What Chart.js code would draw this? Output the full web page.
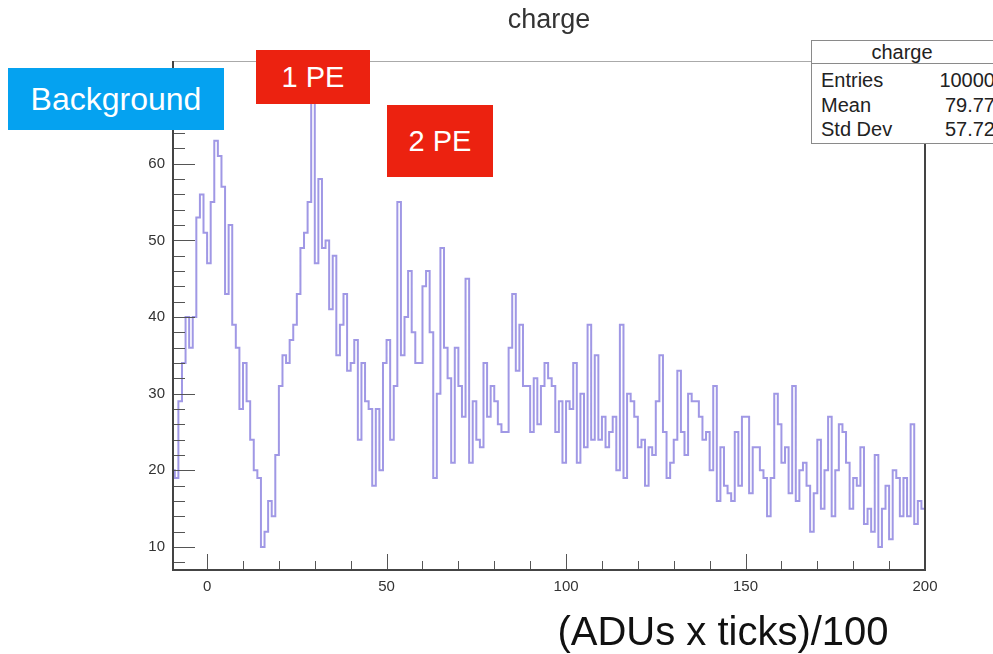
<!DOCTYPE html>
<html>
<head>
<meta charset="utf-8">
<script src="https://cdn.jsdelivr.net/npm/chart.js@4.4.1/dist/chart.umd.min.js"></script>
<style>
  body { margin: 0; background: #fff; overflow: hidden; }
  #wrap { position: relative; width: 993px; height: 654px; font-family: "Liberation Sans", Arial, sans-serif; }
  .tag { position: absolute; color: #fff; display: flex; align-items: center; justify-content: center; }
  #stats { position: absolute; left: 811px; top: 40px; width: 186px; height: 102px; border: 1px solid #8a8a8a; background: #fff; color: #222; font-size: 20px; }
  #stats .head { height: 22px; border-bottom: 1px solid #8a8a8a; text-align: center; line-height: 22px; padding-right: 6px; }
  #stats .rows { padding-top: 4px; }
  #stats .row { display: flex; justify-content: space-between; height: 24.5px; line-height: 24.5px; padding: 0 3px 0 9px; }
  #xlabel { position: absolute; left: 520px; top: 609px; width: 406px; text-align: center; font-size: 40px; color: #111; }
</style>
</head>
<body>
<div id="wrap">
  <canvas id="chart" width="993" height="654"></canvas>
  <div class="tag" style="left:8px;top:68px;width:216px;height:62px;background:#05a2f0;font-size:32px;">Background</div>
  <div class="tag" style="left:256px;top:50px;width:114px;height:54px;background:#ec2210;font-size:29px;">1 PE</div>
  <div class="tag" style="left:387px;top:105px;width:106px;height:72px;background:#ec2210;font-size:29px;">2 PE</div>
  <div id="stats"></div>
  <div id="xlabel">(ADUs x ticks)/100</div>
</div>
<script>
// histogram: bins of width 1 starting at -10
const binLow = -10;
const binWidth = 1;
const counts = [
  20, 19, 29, 34, 40, 36, 40, 53, 56, 51,
  47, 55, 63, 61, 57, 43, 52, 39, 36, 28,
  34, 29, 24, 20, 19, 10, 12, 16, 14, 22,
  31, 35, 34, 37, 39, 43, 49, 51, 55, 69,
  47, 58, 49, 50, 41, 48, 35, 39, 43, 33,
  34, 37, 24, 34, 29, 28, 18, 28, 20, 34,
  37, 24, 31, 55, 35, 40, 46, 38, 34, 34,
  44, 46, 38, 19, 30, 49, 36, 32, 21, 36,
  31, 27, 45, 21, 29, 24, 23, 34, 27, 31,
  29, 26, 25, 25, 36, 43, 33, 39, 31, 31,
  25, 32, 26, 31, 34, 32, 31, 25, 29, 21,
  29, 28, 34, 21, 30, 23, 39, 24, 35, 24,
  27, 23, 25, 27, 20, 39, 19, 30, 29, 27,
  23, 24, 18, 23, 22, 29, 35, 25, 19, 21,
  24, 33, 25, 22, 30, 29, 29, 27, 24, 25,
  20, 31, 16, 23, 18, 17, 16, 25, 18, 27,
  27, 17, 23, 23, 20, 19, 14, 19, 30, 26,
  21, 23, 17, 31, 16, 20, 21, 18, 12, 17,
  24, 15, 20, 27, 14, 20, 26, 25, 21, 15,
  19, 18, 23, 13, 15, 12, 22, 10, 15, 18,
  11, 20, 19, 14, 19, 14, 26, 13, 16, 15
];

const xTicks = [0, 50, 100, 150, 200];
const yTicks = [10, 20, 30, 40, 50, 60, 70];
const xRange = [-9.5, 200];
const yRange = [7, 73.4];

const statTitle = "charge";
const statLabels = ["Entries", "Mean", "Std Dev"];
const statValues = ["10000", "79.77", "57.72"];

// stats box
const stats = document.getElementById("stats");
stats.innerHTML = '<div class="head">' + statTitle + '</div><div class="rows">' +
  statLabels.map((l, i) => '<div class="row"><span>' + l + '</span><span>' + statValues[i] + '</span></div>').join("") + '</div>';

// step points: left edge of each bin, plus closing right edge
const points = counts.map((c, i) => ({ x: binLow + i * binWidth, y: c }));
points.push({ x: binLow + counts.length * binWidth, y: counts[counts.length - 1] });

const font = { family: '"Liberation Sans", Arial, sans-serif', size: 15 };

// ROOT style frame with inward ticks
const rootFrame = {
  id: "rootFrame",
  afterDatasetsDraw(chart) {
    const { ctx, chartArea: a, scales: { x, y } } = chart;
    ctx.save();
    ctx.strokeStyle = "#555";
    ctx.lineWidth = 1;
    ctx.beginPath();
    for (let v = 0; v <= 200; v += 10) {
      const px = Math.round(x.getPixelForValue(v)) + 0.5;
      const len = v % 50 === 0 ? 16 : 9;
      ctx.moveTo(px, a.bottom);
      ctx.lineTo(px, a.bottom - len);
    }
    for (let v = 8; v <= 72; v += 2) {
      const py = Math.round(y.getPixelForValue(v)) + 0.5;
      const len = v % 10 === 0 ? 22 : 12;
      ctx.moveTo(a.left, py);
      ctx.lineTo(a.left + len, py);
    }
    ctx.stroke();
    ctx.strokeStyle = "#aaa";
    ctx.strokeRect(a.left + 0.5, a.top + 0.5, a.right - a.left, a.bottom - a.top);
    ctx.strokeStyle = "#444";
    ctx.lineWidth = 2;
    ctx.beginPath();
    ctx.moveTo(a.left, a.top);
    ctx.lineTo(a.left, a.bottom);
    ctx.lineTo(a.right, a.bottom);
    ctx.lineTo(a.right, a.top);
    ctx.stroke();
    ctx.restore();
  }
};

new Chart(document.getElementById("chart"), {
  type: "line",
  data: {
    datasets: [{
      data: points,
      stepped: "before",
      borderColor: "rgba(128,118,220,0.75)",
      borderWidth: 2,
      pointRadius: 0,
      fill: false
    }]
  },
  options: {
    responsive: false,
    devicePixelRatio: 1,
    animation: false,
    layout: { padding: { left: 0, right: 68, top: 0, bottom: 0 } },
    plugins: {
      legend: { display: false },
      tooltip: { enabled: false },
      title: {
        display: true,
        text: "charge",
        fullSize: false,
        color: "#333",
        font: { family: font.family, size: 27, weight: "normal" },
        padding: { top: 4, bottom: 24.6 }
      }
    },
    scales: {
      x: {
        type: "linear",
        min: xRange[0],
        max: xRange[1],
        grid: { display: false, drawTicks: false },
        border: { display: false },
        ticks: { padding: 8, font: font, color: "#333", maxRotation: 0, autoSkip: false },
        afterBuildTicks: s => { s.ticks = xTicks.map(v => ({ value: v })); },
        afterFit: s => { s.height = 84; }
      },
      y: {
        type: "linear",
        min: yRange[0],
        max: yRange[1],
        grid: { display: false, drawTicks: false },
        border: { display: false },
        ticks: { padding: 8, font: font, color: "#333" },
        afterBuildTicks: s => { s.ticks = yTicks.map(v => ({ value: v })); },
        afterFit: s => { s.width = 173; }
      }
    }
  },
  plugins: [rootFrame]
});
</script>
</body>
</html>
